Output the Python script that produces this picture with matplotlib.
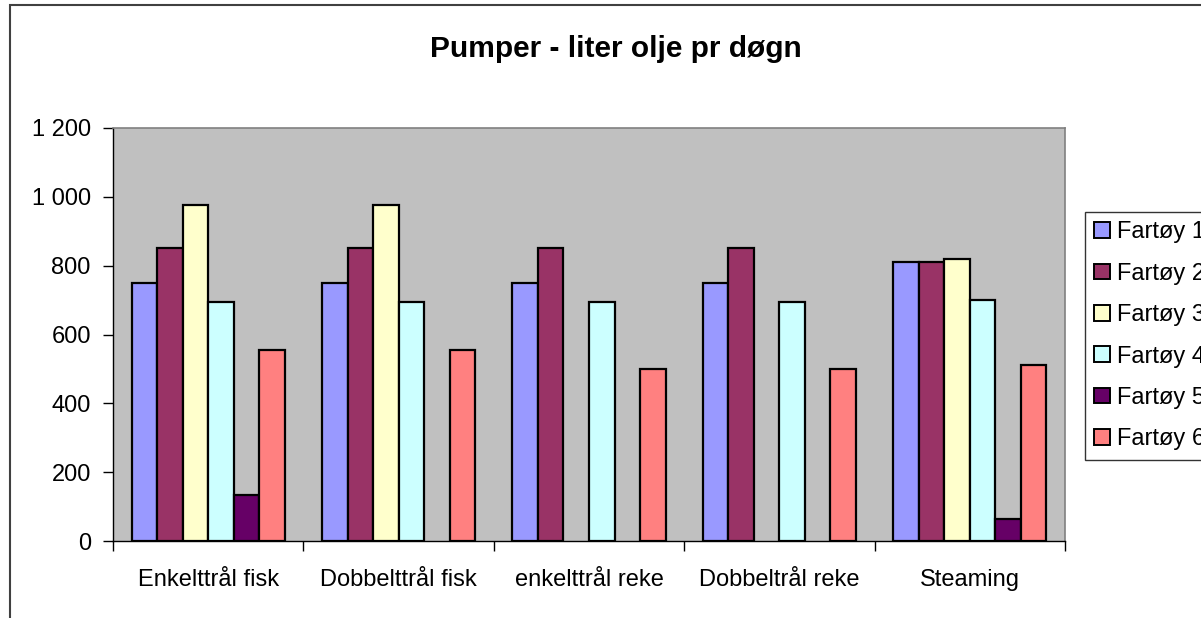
import numpy as np
import matplotlib.pyplot as plt
from matplotlib.patches import Rectangle

plt.rcParams['font.family'] = ['Liberation Sans', 'DejaVu Sans']

# data
categories = ['Enkelttrål fisk', 'Dobbelttrål fisk', 'enkelttrål reke', 'Dobbeltrål reke', 'Steaming']
series = ['Fartøy 1', 'Fartøy 2', 'Fartøy 3', 'Fartøy 4', 'Fartøy 5', 'Fartøy 6']
fartoy1 = [750, 750, 750, 750, 812]
fartoy2 = [850, 850, 850, 850, 812]
fartoy3 = [975, 975, 0, 0, 818]
fartoy4 = [695, 695, 695, 695, 700]
fartoy5 = [135, 0, 0, 0, 63]
fartoy6 = [555, 555, 500, 500, 510]
values = [fartoy1, fartoy2, fartoy3, fartoy4, fartoy5, fartoy6]
colors = ['#9999FF', '#993366', '#FFFFCC', '#CCFFFF', '#660066', '#FF8080']

fig = plt.figure(figsize=(12.01, 6.18), dpi=100, facecolor='white')
ax = fig.add_axes([113/1201, 1 - 541/618, (1065-113)/1201, (541-128)/618])
ax.set_facecolor('#C0C0C0')

# outer chart border (only left/top visible in the crop)
fig.add_artist(Rectangle((10/1201, -0.2), 1.2, 1.2 - 5/618, transform=fig.transFigure,
                         fill=False, edgecolor='#404040', linewidth=1.5))

n = len(series)
w = 0.134
x = np.arange(len(categories))
handles = []
for i, (name, vals, col) in enumerate(zip(series, values, colors)):
    vals = np.array(vals, dtype=float)
    pos = x + (i - (n - 1) / 2) * w
    keep = vals > 0  # empty cells are not drawn
    ax.bar(pos[keep], vals[keep], width=w, color=col, edgecolor='black', linewidth=1.6, zorder=3)
    handles.append(Rectangle((0, 0), 1, 1, facecolor=col, edgecolor='black', linewidth=1.4))

ax.set_xlim(-0.5, len(categories) - 0.5)
ax.set_ylim(0, 1200)
ax.set_yticks(np.arange(0, 1201, 200))
ax.set_yticklabels([f'{v:,}'.replace(',', ' ') for v in range(0, 1201, 200)])
ax.set_xticks(np.arange(len(categories) + 1) - 0.5)
ax.set_xticklabels([])
ax.set_xticks(x, minor=True)
ax.set_xticklabels(categories, minor=True)
ax.tick_params(axis='x', which='minor', length=0, pad=20, labelsize=17)
ax.tick_params(axis='x', which='major', length=7, width=1, direction='out')
ax.tick_params(axis='y', length=7, width=1, direction='out', pad=9, labelsize=17)

for s in ['top', 'right']:
    ax.spines[s].set_color('#808080')
    ax.spines[s].set_linewidth(1.2)
for s in ['left', 'bottom']:
    ax.spines[s].set_color('black')
    ax.spines[s].set_linewidth(1)

fig.text(616/1201, 1 - 49/618, 'Pumper - liter olje pr døgn', ha='center', va='center',
         fontsize=21.5, fontweight='bold')

leg = fig.legend(handles, series, loc='upper left', bbox_to_anchor=(1085/1201, 1 - 212/618),
                 fontsize=17, frameon=True, fancybox=False, edgecolor='black',
                 handlelength=0.65, handleheight=0.65, handletextpad=0.3,
                 labelspacing=0.82, borderpad=0.4, borderaxespad=0)
leg.get_frame().set_linewidth(1)

fig.savefig('out.png', dpi=100, facecolor='white')
